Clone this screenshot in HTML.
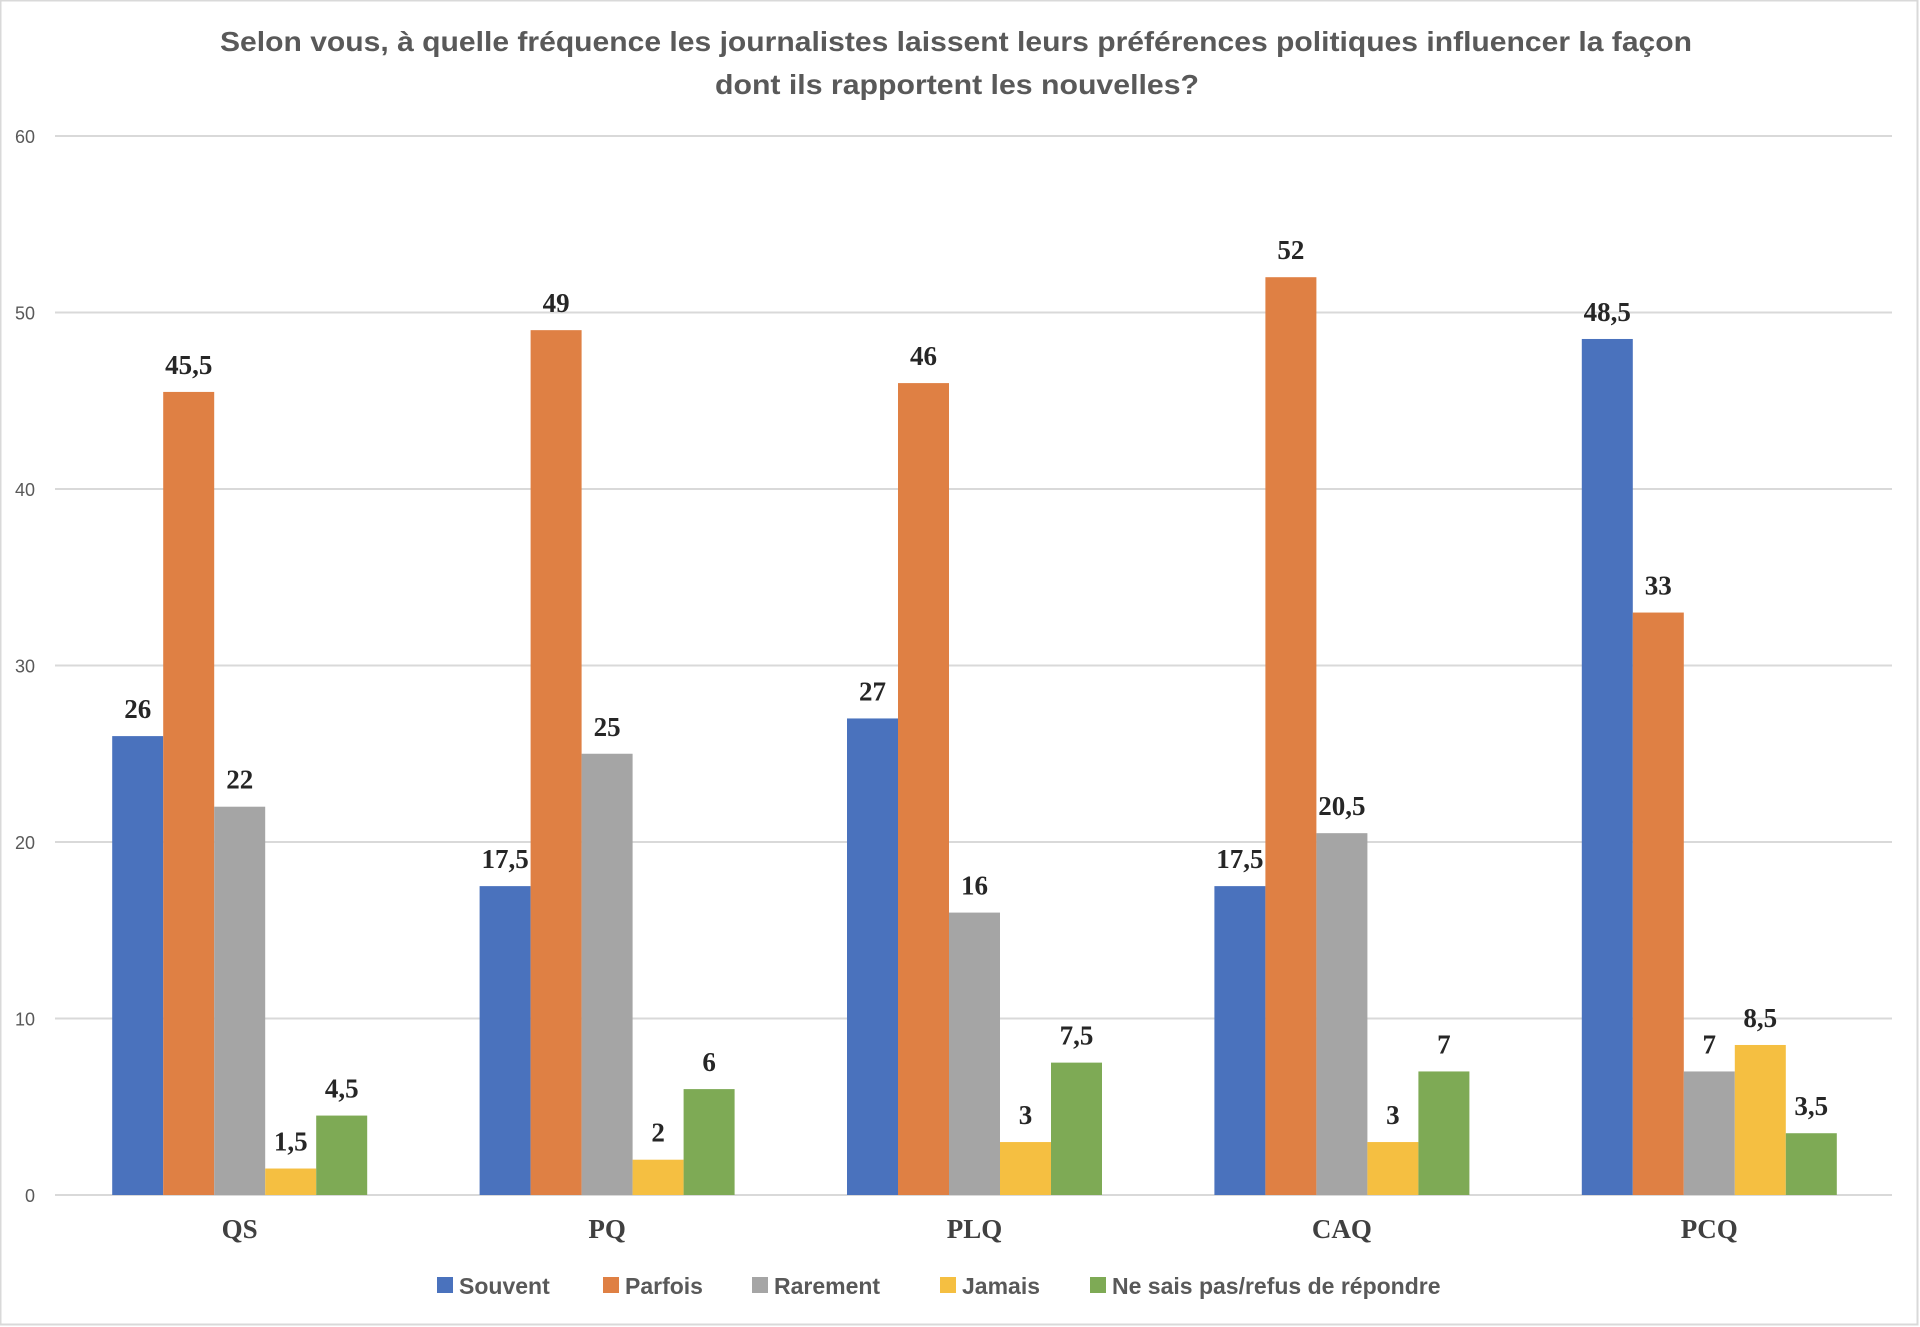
<!DOCTYPE html>
<html><head><meta charset="utf-8"><style>
html,body{margin:0;padding:0;background:#fff;}
svg{display:block;}
</style></head><body>
<svg id="chart" width="1920" height="1327" viewBox="0 0 1920 1327" xmlns="http://www.w3.org/2000/svg">
<rect x="0.5" y="0.5" width="1917" height="1324" fill="#fff" stroke="#d9d9d9" stroke-width="2"/>
<text x="956" y="51" text-anchor="middle" font-family="Liberation Sans, sans-serif" font-weight="bold" font-size="28" fill="#595959" textLength="1472" lengthAdjust="spacingAndGlyphs">Selon vous, à quelle fréquence les journalistes laissent leurs préférences politiques influencer la façon</text>
<text x="957" y="94" text-anchor="middle" font-family="Liberation Sans, sans-serif" font-weight="bold" font-size="28" fill="#595959" textLength="484" lengthAdjust="spacingAndGlyphs">dont ils rapportent les nouvelles?</text>
<g id="grid"></g>
<g id="bars"></g>
<g id="labels"></g>
<g id="legend"></g>
</svg>
<script>
const categories = ["QS","PQ","PLQ","CAQ","PCQ"];
const seriesNames = ["Souvent","Parfois","Rarement","Jamais","Ne sais pas/refus de répondre"];
const souvent = [26,17.5,27,17.5,48.5];
const parfois = [45.5,49,46,52,33];
const rarement = [22,25,16,20.5,7];
const jamais = [1.5,2,3,3,8.5];
const nesaispas = [4.5,6,7.5,7,3.5];
const yTicks = [0,10,20,30,40,50,60];

const series = [souvent,parfois,rarement,jamais,nesaispas];
const fills = ["#4a72bd","#df8044","#a5a5a5","#f5bf41","#7eaa55"];
const NS = "http://www.w3.org/2000/svg";
const x0 = 55, x1 = 1892, y0 = 1195, yTop = 136, yMax = 60;
const band = (x1 - x0) / categories.length;
const barW = 51;
function y(v){ return y0 - (v / yMax) * (y0 - yTop); }
function bx(ci, si){ return x0 + band*ci + band/2 - barW*series.length/2 + barW*si + 1; }
function mk(tag, attrs, parent, text){
  const e = document.createElementNS(NS, tag);
  for (const k in attrs) e.setAttribute(k, attrs[k]);
  if (text !== undefined) e.textContent = text;
  parent.appendChild(e); return e;
}
const grid = document.getElementById('grid');
yTicks.forEach(t => {
  const l = mk('line', {x1:x0, x2:x1, y1:y(t), y2:y(t), stroke:'#d9d9d9', 'stroke-width':2}, grid);
  
  
  const tx = mk('text', {x:35, y:y(t)+7, 'text-anchor':'end', 'font-family':'Liberation Sans, sans-serif', 'font-size':18, fill:'#595959'}, grid, String(t));
  
  
});
const barsG = document.getElementById('bars');
const labelsG = document.getElementById('labels');
categories.forEach((c, ci) => {
  series.forEach((s, si) => {
    const v = s[ci];
    const r = mk('rect', {x:bx(ci,si), y:y(v), width:barW, height:y0 - y(v), fill:fills[si]}, barsG);
    
    
    const t = mk('text', {x:bx(ci,si)+barW/2, y:y(v)-18, 'text-anchor':'middle', 'font-family':'Liberation Serif, serif', 'font-weight':'bold', 'font-size':27, fill:'#262626'}, labelsG, String(v).replace('.', ','));
    
    
  });
  const cl = mk('text', {x:x0 + band*ci + band/2 + 1, y:1238, 'text-anchor':'middle', 'font-family':'Liberation Serif, serif', 'font-weight':'bold', 'font-size':27, fill:'#404040'}, labelsG, c);
  
  
});
const legendG = document.getElementById('legend');
const legX = [437, 603, 752, 940, 1090];
seriesNames.forEach((n, i) => {
  const g = mk('g', {}, legendG);
  
  
  mk('rect', {x:legX[i], y:1277, width:16, height:16, fill:fills[i]}, g);
  mk('text', {x:legX[i]+22, y:1294, 'font-family':'Liberation Sans, sans-serif', 'font-weight':'bold', 'font-size':23, fill:'#595959'}, g, n);
});
</script>
</body></html>
